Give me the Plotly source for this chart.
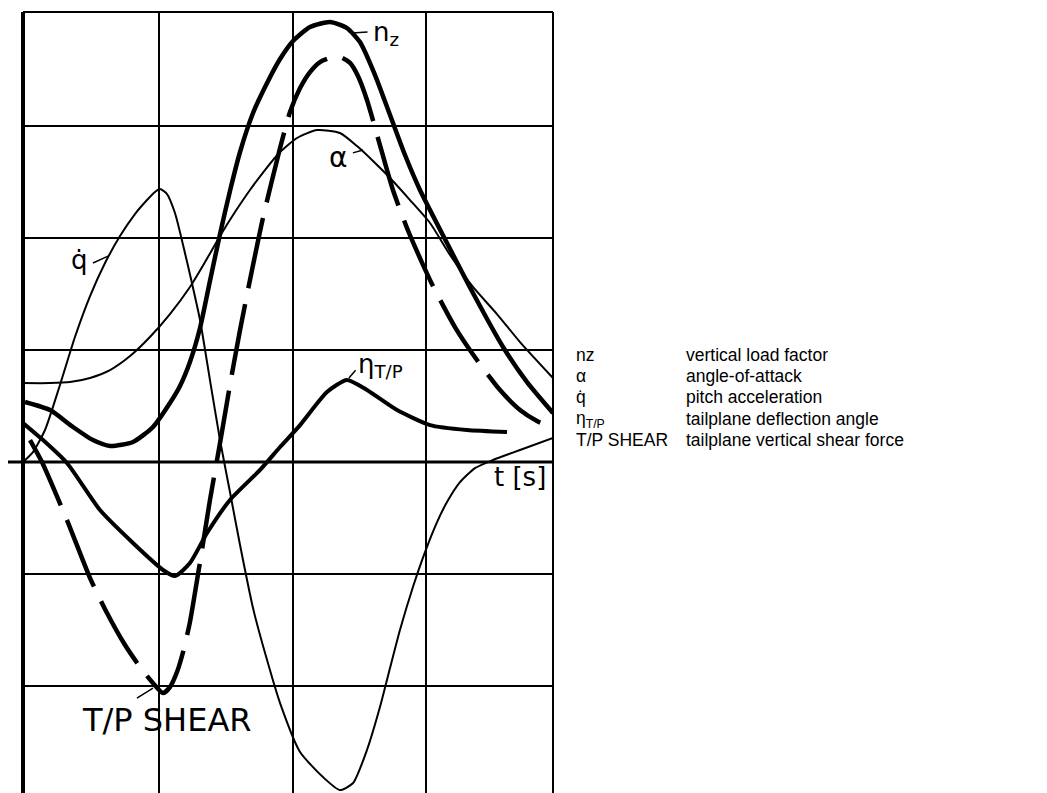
import plotly.graph_objects as go

# ---- time axis (grid units) and traces ----
nz_t = [0.015, 0.204, 0.377, 0.528, 0.657, 0.830, 0.981, 1.109, 1.185, 1.260, 1.336, 1.411, 1.487,
        1.562, 1.638, 1.736, 1.842, 1.940, 2.038, 2.166, 2.317, 2.445, 2.543, 2.657, 2.770, 2.883,
        2.996, 3.200, 3.396, 3.623, 3.804, 4.0]
nz_v = [0.536, 0.464, 0.313, 0.196, 0.143, 0.179, 0.313, 0.527, 0.679, 0.893, 1.196, 1.616, 2.036,
        2.420, 2.768, 3.116, 3.384, 3.598, 3.759, 3.884, 3.929, 3.875, 3.750, 3.455, 3.098, 2.741,
        2.429, 1.955, 1.509, 1.027, 0.714, 0.438]

alpha_t = [0.0, 0.204, 0.355, 0.506, 0.657, 0.808, 0.958, 1.109, 1.260, 1.374, 1.487, 1.600, 1.713,
           1.826, 1.940, 2.068, 2.219, 2.392, 2.521, 2.657, 2.770, 2.921, 3.072, 3.223, 3.396, 3.577,
           3.751, 4.0]
alpha_v = [0.705, 0.705, 0.714, 0.750, 0.821, 0.946, 1.116, 1.321, 1.563, 1.786, 2.018, 2.232, 2.429,
           2.607, 2.768, 2.893, 2.964, 2.938, 2.821, 2.670, 2.536, 2.339, 2.134, 1.848, 1.563, 1.321,
           1.071, 0.750]

qdot_t = [0.0, 0.075, 0.166, 0.279, 0.392, 0.506, 0.619, 0.732, 0.845, 0.936, 0.996, 1.034, 1.087,
          1.147, 1.208, 1.275, 1.336, 1.411, 1.487, 1.562, 1.638, 1.736, 1.842, 1.940, 2.091, 2.264,
          2.392, 2.491, 2.596, 2.694, 2.770, 2.845, 2.943, 3.034, 3.125, 3.200, 3.298, 3.411, 3.547,
          3.751, 4.0]
qdot_v = [0.0, 0.089, 0.286, 0.688, 1.116, 1.482, 1.777, 2.018, 2.214, 2.339, 2.411, 2.438, 2.393,
          2.223, 1.938, 1.598, 1.268, 0.732, 0.196, -0.268, -0.741, -1.304, -1.768, -2.152, -2.589,
          -2.813, -2.929, -2.866, -2.571, -2.188, -1.839, -1.500, -1.116, -0.804, -0.536, -0.357,
          -0.179, -0.054, 0.018, 0.107, 0.214]

eta_t = [0.0, 0.151, 0.332, 0.581, 0.830, 1.057, 1.147, 1.260, 1.389, 1.562, 1.789, 1.940, 2.091,
         2.294, 2.445, 2.596, 2.823, 3.072, 3.351, 3.653]
eta_v = [0.348, 0.196, -0.009, -0.429, -0.723, -0.964, -1.018, -0.902, -0.634, -0.339, -0.071, 0.134,
         0.330, 0.625, 0.732, 0.643, 0.464, 0.330, 0.286, 0.268]

shear_t = [0.053, 0.143, 0.332, 0.506, 0.634, 0.770, 0.883, 0.974, 1.057, 1.109, 1.162, 1.208, 1.260,
           1.336, 1.411, 1.487, 1.562, 1.638, 1.713, 1.811, 1.940, 2.015, 2.091, 2.166, 2.242, 2.317,
           2.392, 2.468, 2.528, 2.596, 2.694, 2.792, 2.898, 2.996, 3.094, 3.260, 3.426, 3.600, 3.751,
           3.879, 4.0]
shear_v = [0.196, 0.0, -0.518, -1.036, -1.348, -1.634, -1.830, -1.964, -2.063, -2.009, -1.875, -1.696,
           -1.429, -0.893, -0.339, 0.170, 0.688, 1.179, 1.625, 2.179, 2.804, 3.125, 3.339, 3.482,
           3.571, 3.607, 3.616, 3.563, 3.446, 3.232, 2.830, 2.429, 2.089, 1.821, 1.571, 1.205,
           0.911, 0.643, 0.464, 0.366, 0.304]

# legend table on the right
legend_symbols = ["nz", "α", "q̇", "η<sub>T/P</sub>", "T/P SHEAR"]
legend_texts = ["vertical load factor", "angle-of-attack", "pitch acceleration",
                "tailplane deflection angle", "tailplane vertical shear force"]

# grid positions (hand-ruled paper)
x_grid = [1.03, 2.04, 3.04]
y_grid = [-2, -1, 1, 2, 3]

W, H = 1047, 793
L, R, T, B = 23, 494, 12, 0
pw, ph = W - L - R, H - T - B

fig = go.Figure()

def add_curve(t, v, width, dash="solid"):
    fig.add_trace(go.Scatter(x=t, y=v, mode="lines",
                             line=dict(color="black", width=width, shape="spline",
                                       smoothing=0.6, dash=dash),
                             hoverinfo="skip", showlegend=False))

add_curve(alpha_t, alpha_v, 2)
add_curve(qdot_t, qdot_v, 2)
add_curve(eta_t, eta_v, 4)
add_curve(nz_t, nz_v, 4.5)
add_curve(shear_t, shear_v, 4.5, dash="72px,16px")

# frame and time axis
frame = dict(color="black", width=2)
fig.add_shape(type="line", xref="paper", yref="paper", x0=0, x1=0, y0=0, y1=1,
              line=dict(color="black", width=4))
fig.add_shape(type="line", xref="paper", yref="paper", x0=1, x1=1, y0=0, y1=1, line=frame)
fig.add_shape(type="line", xref="paper", yref="paper", x0=0, x1=1, y0=1, y1=1, line=frame)
fig.add_shape(type="line", xref="paper", yref="y", x0=(8 - L) / pw, x1=1, y0=0, y1=0,
              line=dict(color="black", width=3))

hand = dict(family="DejaVu Sans", color="black")

def leader(x0, y0, x1, y1):
    fig.add_shape(type="line", x0=x0, y0=y0, x1=x1, y1=y1, line=dict(color="black", width=1.5))

# curve labels
fig.add_annotation(x=2.74, y=3.83, text="n<sub>z</sub>", showarrow=False,
                   font=dict(size=26, **hand))
leader(2.483, 3.83, 2.60, 3.84)
fig.add_annotation(x=2.377, y=2.72, text="α", showarrow=False, font=dict(size=28, **hand))
leader(2.49, 2.76, 2.566, 2.786)
fig.add_annotation(x=0.43, y=1.80, text="q̇", showarrow=False, font=dict(size=26, **hand))
leader(0.528, 1.777, 0.642, 1.839)
fig.add_annotation(x=2.70, y=0.86, text="η<sub>T/P</sub>", showarrow=False,
                   font=dict(size=26, **hand))
leader(2.46, 0.75, 2.51, 0.82)
fig.add_annotation(x=1.09, y=-2.30, text="T/P SHEAR", showarrow=False,
                   font=dict(size=32, **hand))
leader(0.86, -2.107, 0.981, -2.018)
fig.add_annotation(x=3.75, y=-0.135, text="t [s]", showarrow=False, font=dict(size=26, **hand))

# legend rows
row_y = [355, 376, 397, 419, 440]
leg_font = dict(family="Liberation Sans Narrow, Liberation Sans, Arial", size=17.5, color="black")
for sym, txt, py in zip(legend_symbols, legend_texts, row_y):
    yp = (H - py - B) / ph
    fig.add_annotation(xref="paper", yref="paper", x=(574 - L) / pw, y=yp, text=sym,
                       showarrow=False, xanchor="left", yanchor="middle", font=leg_font)
    fig.add_annotation(xref="paper", yref="paper", x=(684 - L) / pw, y=yp, text=txt,
                       showarrow=False, xanchor="left", yanchor="middle", font=leg_font)

fig.update_xaxes(range=[0, 4], tickvals=x_grid, showticklabels=False, ticks="",
                 showgrid=True, gridcolor="black", gridwidth=2, zeroline=False, showline=False)
fig.update_yaxes(range=[-2.955, 4.018], tickvals=y_grid, showticklabels=False, ticks="",
                 showgrid=True, gridcolor="black", gridwidth=2, zeroline=False, showline=False)

fig.update_layout(width=W, height=H, margin=dict(l=L, r=R, t=T, b=B, pad=0),
                  plot_bgcolor="white", paper_bgcolor="white", showlegend=False)

fig.write_html("out.html")
